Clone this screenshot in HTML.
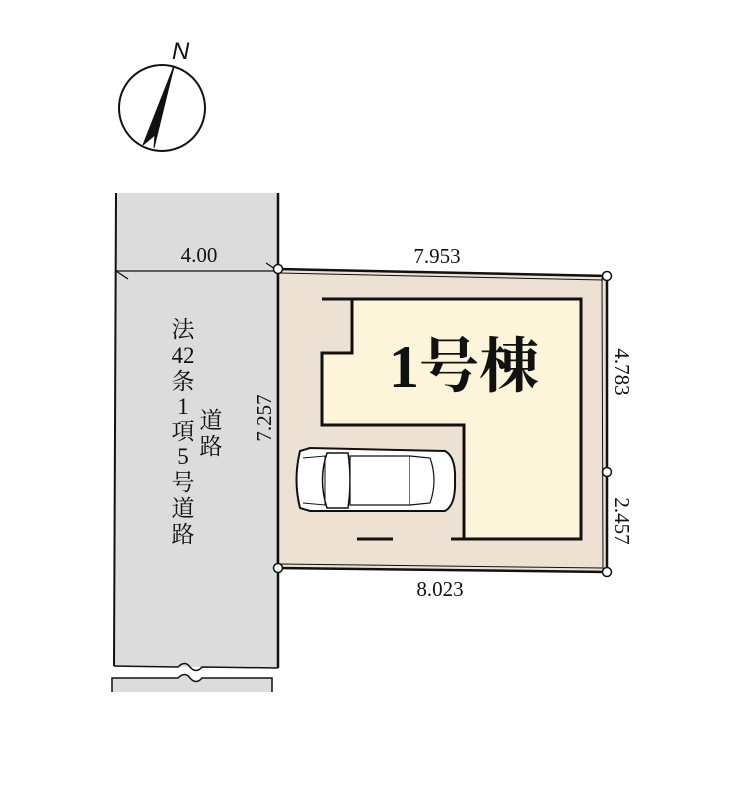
<!DOCTYPE html>
<html><head><meta charset="utf-8"><style>
html,body{margin:0;padding:0;background:#fff;width:737px;height:812px;overflow:hidden}
svg{display:block}
text{font-family:"Liberation Serif","Noto Serif CJK SC",serif;fill:#111}
</style></head><body>
<svg width="737" height="812" viewBox="0 0 737 812">
<circle cx="162" cy="108" r="43" fill="none" stroke="#111" stroke-width="2"/>
<path d="M174,66 L143,145 L155,135 L154,148 Z" fill="#111" stroke="#111" stroke-width="1"/>
<line x1="174" y1="66" x2="155" y2="135" stroke="#111" stroke-width="1.5"/>
<text x="172" y="59" style="font-family:'Liberation Sans',sans-serif;font-style:italic;font-size:24px">N</text>
<path d="M116,193 L278,193 L278,668 L114,666 Z" fill="#dcdcdc"/>
<line x1="116" y1="193" x2="114" y2="666" stroke="#111" stroke-width="2"/>
<line x1="278" y1="193" x2="278" y2="668" stroke="#111" stroke-width="2.5"/>
<path d="M114,666 L178,667 Q185,660 190,667 Q196,674 202,667 L278,668" fill="none" stroke="#111" stroke-width="1.5"/>
<path d="M112,678 L178,678 Q185,671 190,678 Q196,685 202,678 L272,678 L272,692 L112,692 Z" fill="#dcdcdc"/>
<path d="M112,692 L112,678 L178,678 Q185,671 190,678 Q196,685 202,678 L272,678 L272,692" fill="none" stroke="#111" stroke-width="1.5"/>
<line x1="116" y1="271" x2="278" y2="271" stroke="#111" stroke-width="1.3"/>
<line x1="116" y1="271" x2="128" y2="279" stroke="#111" stroke-width="1.3"/>
<line x1="266" y1="263" x2="278" y2="271" stroke="#111" stroke-width="1.3"/>
<text x="199" y="262" font-size="21" text-anchor="middle">4.00</text>
<g font-size="23" text-anchor="middle">
<text x="183" y="337">法</text><text x="183" y="363">42</text><text x="183" y="389">条</text>
<text x="183" y="414">1</text><text x="183" y="439">項</text><text x="183" y="464">5</text>
<text x="183" y="490">号</text><text x="183" y="516">道</text><text x="183" y="542">路</text>
<text x="211" y="428">道</text><text x="211" y="454">路</text>
</g>
<path d="M278,269 L607,276 L607,572 L278,568 Z" fill="#ece1d3" stroke="#111" stroke-width="2.5"/>
<line x1="279" y1="273" x2="603" y2="280" stroke="#111" stroke-width="1"/>
<line x1="602" y1="278" x2="603" y2="569" stroke="#111" stroke-width="1"/>
<line x1="280" y1="564" x2="603" y2="568" stroke="#111" stroke-width="1"/>
<g fill="#fff" stroke="#111" stroke-width="1.5">
<circle cx="278" cy="269" r="4.5"/><circle cx="607" cy="276" r="4.5"/>
<circle cx="607" cy="472" r="4.5"/><circle cx="607" cy="572" r="4.5"/><circle cx="278" cy="568" r="4.5"/>
</g>
<text x="437" y="263" font-size="21" text-anchor="middle">7.953</text>
<text x="440" y="596" font-size="21" text-anchor="middle">8.023</text>
<text font-size="21" text-anchor="middle" transform="translate(615,372) rotate(90)">4.783</text>
<text font-size="21" text-anchor="middle" transform="translate(615,521) rotate(90)">2.457</text>
<text font-size="21" text-anchor="middle" transform="translate(271,418) rotate(-90)">7.257</text>
<path d="M352,299 L581,299 L581,539 L464,539 L464,425 L322,425 L322,353 L352,353 Z" fill="#fcf5d9"/>
<path d="M322,299 L352,299 L352,353 L322,353 L322,425 L464,425 L464,539 L581,539 L581,299 L352,299" fill="none" stroke="#111" stroke-width="3"/>
<line x1="451" y1="539" x2="464" y2="539" stroke="#111" stroke-width="3"/>
<line x1="357" y1="539" x2="393" y2="539" stroke="#111" stroke-width="3"/>
<text x="464" y="387" font-size="60" text-anchor="middle" font-weight="bold">1号棟</text>
<g fill="#fff" stroke="#111" stroke-width="2">
<path d="M300,451 Q293,480 300,508 L310,511 L445,511 Q456,505 455,480 Q456,457 445,451 L310,448 Z"/>
<path d="M327,453 Q318,480 327,508 L348,508 Q352,480 348,453 Z" stroke-width="1.5"/>
<path d="M350,456 L410,456 L410,505 L350,505 Z" stroke-width="1.2"/>
<path d="M410,456 L430,458 Q438,480 430,503 L410,505" stroke-width="1.2"/>
<path d="M303,458 L325,456 L325,505 L303,503" fill="none" stroke-width="1"/>
</g>
</svg>
</body></html>
